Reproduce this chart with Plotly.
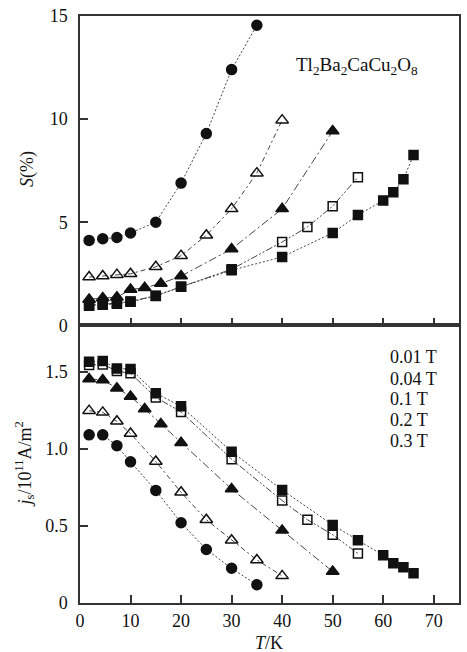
import plotly.graph_objects as go

# ---- data ----
T_03 = [1.8, 4.5, 7.3, 10, 15, 20, 25, 30, 35]
S_03 = [4.12, 4.2, 4.26, 4.48, 5.0, 6.9, 9.3, 12.4, 14.55]
J_03 = [1.09, 1.09, 1.02, 0.915, 0.73, 0.52, 0.347, 0.225, 0.118]

T_02 = [1.8, 4.5, 7.3, 10, 15, 20, 25, 30, 35, 40]
S_02 = [2.34, 2.39, 2.46, 2.5, 2.84, 3.38, 4.37, 5.65, 7.38, 9.95]
J_02 = [1.247, 1.236, 1.178, 1.099, 0.917, 0.718, 0.54, 0.407, 0.279, 0.176]

T_01 = [1.8, 4.5, 7.3, 10, 12.8, 16, 20, 30, 40, 50]
S_01 = [1.26, 1.33, 1.36, 1.74, 1.82, 2.03, 2.39, 3.7, 5.65, 9.42]
J_01 = [1.453, 1.446, 1.393, 1.339, 1.258, 1.161, 1.039, 0.739, 0.471, 0.204]

T_004 = [1.8, 4.5, 7.3, 10, 15, 20, 30, 40, 45, 50, 55]
S_004 = [0.97, 1.02, 1.08, 1.16, 1.44, 1.87, 2.72, 4.04, 4.77, 5.78, 7.18]
J_004 = [1.543, 1.547, 1.504, 1.489, 1.333, 1.239, 0.932, 0.664, 0.54, 0.443, 0.321]

T_001 = [1.8, 4.5, 7.3, 10, 15, 20, 30, 40, 50, 55, 60, 62, 64, 66]
S_001 = [0.95, 1.0, 1.05, 1.14, 1.42, 1.87, 2.67, 3.32, 4.48, 5.35, 6.05, 6.46, 7.09, 8.26]
J_001 = [1.564, 1.569, 1.52, 1.517, 1.36, 1.275, 0.981, 0.733, 0.506, 0.407, 0.309, 0.257, 0.231, 0.193]

legend_labels = ["0.01 T", "0.04 T", "0.1 T", "0.2 T", "0.3 T"]

FONT = "Liberation Serif, Times New Roman, serif"
INK = "#111111"
LINE = "#444444"

series = [
    # (T, S, J, symbol, size, dash)
    (T_004, S_004, J_004, "square-open", 9, "7px,2px,2px,2px,2px,2px"),
    (T_001, S_001, J_001, "square", 9, "2px,2px"),
    (T_01, S_01, J_01, "triangle-up", 11, "8px,3px,2px,3px"),
    (T_02, S_02, J_02, "triangle-up-open", 11, "5px,3px,2px,3px"),
    (T_03, S_03, J_03, "circle", 10, "2px,2px"),
]

fig = go.Figure()
for T, S, J, sym, size, dash in series:
    mk = dict(symbol=sym, size=size, color=INK, line=dict(color=INK, width=1.5))
    ln = dict(color=LINE, width=1, dash=dash)
    fig.add_trace(go.Scatter(x=T, y=S, mode="lines+markers", marker=mk, line=ln,
                             xaxis="x2", yaxis="y2", showlegend=False))
    fig.add_trace(go.Scatter(x=T, y=J, mode="lines+markers", marker=mk, line=ln,
                             xaxis="x", yaxis="y", showlegend=False))

axis_common = dict(showgrid=False, zeroline=False, showline=True, linecolor="#333333",
                   linewidth=1.5, mirror=True, ticks="inside", ticklen=8, tickwidth=1.5,
                   tickcolor="#333333", tickfont=dict(family=FONT, size=18, color=INK))

split = 280 / 592

fig.update_layout(
    width=467, height=652,
    margin=dict(l=80, r=6, t=11, b=49),
    paper_bgcolor="white", plot_bgcolor="white",
    font=dict(family=FONT, size=18, color=INK),
    xaxis=dict(range=[0, 75], tickvals=[0, 10, 20, 30, 40, 50, 60, 70], anchor="y",
               ticklabelstandoff=1, **axis_common),
    yaxis=dict(range=[0, 1.8], tickvals=[0, 0.5, 1.0, 1.5], ticktext=["0", "0.5", "1.0", "1.5"],
               domain=[0, split], anchor="x", ticklabelstandoff=7, **axis_common),
    xaxis2=dict(range=[0, 75], tickvals=[0, 10, 20, 30, 40, 50, 60, 70], anchor="y2",
                matches="x", showticklabels=False, **axis_common),
    yaxis2=dict(range=[0, 15], tickvals=[0, 5, 10, 15], domain=[split, 1], anchor="x2",
                ticklabelstandoff=7, **axis_common),
)

ann = []
# formula label
ann.append(dict(x=42.3, y=12.6, xref="x2", yref="y2", xanchor="left", yanchor="middle",
                text="Tl<sub>2</sub>Ba<sub>2</sub>CaCu<sub>2</sub>O<sub>8</sub>",
                showarrow=False, font=dict(family=FONT, size=19, color=INK)))
# field labels (text only)
leg_y = [1.596, 1.455, 1.322, 1.187, 1.052]
for lab, yy in zip(legend_labels, leg_y):
    ann.append(dict(x=61.0, y=yy, xref="x", yref="y", xanchor="left", yanchor="middle",
                    text=lab, showarrow=False, font=dict(family=FONT, size=18, color=INK)))
# axis titles
ann.append(dict(x=-53 / 381, y=(592 - 154) / 592, xref="paper", yref="paper",
                xanchor="center", yanchor="middle", textangle=-90,
                text="<i>S</i>(%)", showarrow=False, font=dict(family=FONT, size=18, color=INK)))
ann.append(dict(x=-56 / 381, y=(592 - 452) / 592, xref="paper", yref="paper",
                xanchor="center", yanchor="middle", textangle=-90,
                text="<i>j</i><sub>s</sub>/10<sup>11</sup>A/m<sup>2</sup>", showarrow=False,
                font=dict(family=FONT, size=18, color=INK)))
ann.append(dict(x=(270 - 80) / 381, y=-40 / 592, xref="paper", yref="paper",
                xanchor="center", yanchor="middle",
                text="<i>T</i>/K", showarrow=False, font=dict(family=FONT, size=18, color=INK)))
fig.update_layout(annotations=ann)

fig.write_html("out.html")
